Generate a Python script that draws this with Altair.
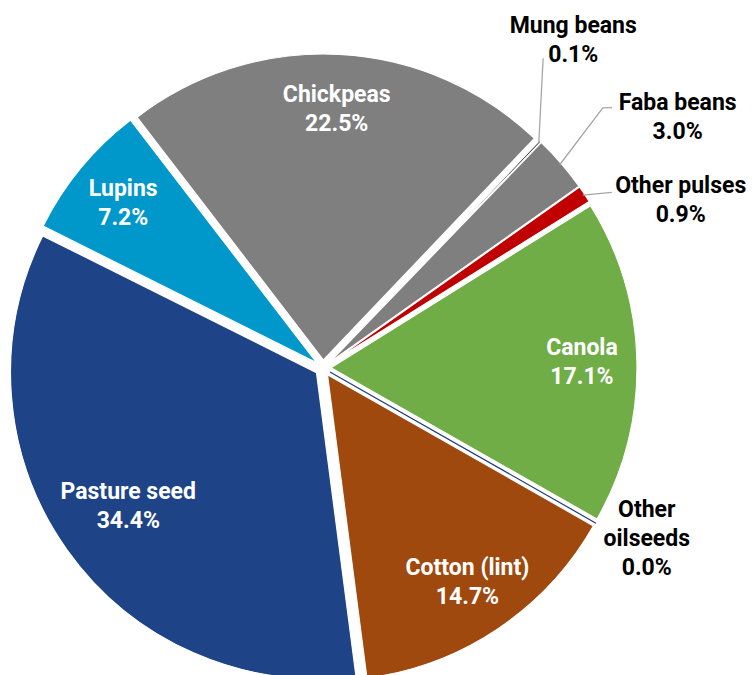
import math
import altair as alt
import pandas as pd

# ---------------- data ----------------
categories = ["Chickpeas", "Mung beans", "Faba beans", "Other pulses", "Canola",
              "Other oilseeds", "Cotton (lint)", "Pasture seed", "Lupins"]
label_names = ["Chickpeas", "Mung beans", "Faba beans", "Other pulses", "Canola",
               "Other\noilseeds", "Cotton (lint)", "Pasture seed", "Lupins"]
shares = [22.5, 0.1, 3.0, 0.9, 17.1, 0.0, 14.7, 34.4, 7.2]
colors = ["#7F7F7F", "#111111", "#7F7F7F", "#C00000", "#70AD47",
          "#203C78", "#A0490E", "#1E4387", "#0097CB"]

# ---------------- layout / style ----------------
W, H = 739, 667
CX, CY = 315, 360
R = 306
EXPLODE = 8
START_DEG = -37.5
START = math.radians(START_DEG)
TOTAL = sum(shares)
FONT = "Roboto"
FONT_SIZE = 23
LINE_H = 29

strokes = ["white"] * len(categories)
strokes[categories.index("Other oilseeds")] = "#203C78"

inside = {"Chickpeas", "Canola", "Cotton (lint)", "Pasture seed", "Lupins"}
label_radius = {"Pasture seed": 231}          # radius from exploded centre
default_label_radius = 251
# outside labels: (angle deg from 12 o'clock, radius) from pie centre
outside_pos = {"Mung beans": (37.4, 412), "Faba beans": (54.8, 434),
               "Other pulses": (64.9, 395), "Other oilseeds": (117.8, 366)}
# leader lines: points after the slice edge (angle deg, radius) from pie centre
leaders = {"Mung beans": [(35.4, 380)],
           "Faba beans": [(47.1, 382), (48.0, 389)],
           "Other pulses": [(58.7, 338)]}

rows = []
for i, (c, ln, s) in enumerate(zip(categories, label_names, shares)):
    la, lr = (None, None)
    if c in outside_pos:
        la, lr = outside_pos[c]
    else:
        lr = label_radius.get(c, default_label_radius)
    text = f"{ln}\n{s:.1f}%"
    rows.append({"cat": c, "share": s, "idx": i,
                 "label": text, "nl": text.count("\n") + 1,
                 "la": la, "lr": lr,
                 "tcol": "in" if c in inside else "out"})
df = pd.DataFrame(rows)

# leader line table
lrows = []
cum = 0.0
mids = {}
for c, s in zip(categories, shares):
    mids[c] = START + 2 * math.pi * (cum + s / 2) / TOTAL
    cum += s
for c, pts in leaders.items():
    m = mids[c]
    ex = CX + EXPLODE * math.sin(m)
    ey = CY - EXPLODE * math.cos(m)
    lrows.append({"cat": c, "ord": 0, "px": ex + (R - 2) * math.sin(m),
                  "py": ey - (R - 2) * math.cos(m)})
    for k, (a, r) in enumerate(pts):
        ar = math.radians(a)
        lrows.append({"cat": c, "ord": k + 1, "px": CX + r * math.sin(ar),
                      "py": CY - r * math.cos(ar)})
ldf = pd.DataFrame(lrows)

base = (
    alt.Chart(df)
    .transform_window(cum="sum(share)", sort=[alt.SortField("idx")], frame=[None, 0])
    .transform_calculate(
        t0="datum.cum - datum.share",
        mid=f"{START} + 2*PI*(datum.cum - datum.share/2)/{TOTAL}",
    )
    .transform_calculate(
        ex=f"{CX} + {EXPLODE}*sin(datum.mid)",
        ey=f"{CY} - {EXPLODE}*cos(datum.mid)",
    )
)

arcs = base.mark_arc(radius=R, strokeWidth=1.2).encode(
    theta=alt.Theta("t0:Q", stack=None,
                    scale=alt.Scale(domain=[0, TOTAL], range=[START, START + 2 * math.pi])),
    theta2="cum:Q",
    x=alt.X("ex:Q", scale=None),
    y=alt.Y("ey:Q", scale=None),
    color=alt.Color("cat:N", scale=alt.Scale(domain=categories, range=colors), legend=None),
    stroke=alt.Stroke("cat:N", scale=alt.Scale(domain=categories, range=strokes), legend=None),
)

labels = base.transform_calculate(
    lx=f"isValid(datum.la) ? {CX} + datum.lr*sin(datum.la*PI/180) : datum.ex + datum.lr*sin(datum.mid)",
    ly0=f"isValid(datum.la) ? {CY} - datum.lr*cos(datum.la*PI/180) : datum.ey - datum.lr*cos(datum.mid)",
).transform_calculate(
    ly=f"datum.ly0 - (datum.nl - 1) * {LINE_H} / 2",
).mark_text(font=FONT, fontWeight="bold", fontSize=FONT_SIZE, lineHeight=LINE_H,
            align="center", baseline="middle", lineBreak="\n").encode(
    x=alt.X("lx:Q", scale=None),
    y=alt.Y("ly:Q", scale=None),
    text="label:N",
    color=alt.Color("tcol:N", scale=alt.Scale(domain=["in", "out"], range=["white", "black"]),
                    legend=None),
)

lines = alt.Chart(ldf).mark_line(color="#A6A6A6", strokeWidth=1.3).encode(
    x=alt.X("px:Q", scale=None),
    y=alt.Y("py:Q", scale=None),
    detail="cat:N",
    order="ord:Q",
)

chart = (
    alt.layer(arcs, lines, labels)
    .resolve_scale(color="independent")
    .properties(width=W, height=H, padding=0, autosize="none")
    .configure_view(stroke=None)
)

chart.save("out.html", embed_options={"renderer": "svg", "actions": False})
